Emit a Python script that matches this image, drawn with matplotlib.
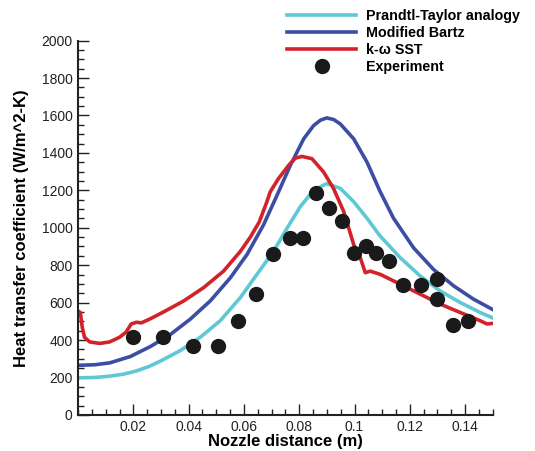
import numpy as np
import matplotlib
matplotlib.use("Agg")
import matplotlib.pyplot as plt
from matplotlib.ticker import MultipleLocator, FixedLocator

plt.rcParams['font.family'] = ['Liberation Sans', 'DejaVu Sans']

# Prandtl-Taylor analogy
pt_x = [0.0, 0.0060, 0.0114, 0.0165, 0.0211, 0.0255, 0.0297, 0.0370, 0.0442,
        0.0514, 0.0587, 0.0647, 0.0707, 0.0756, 0.0804, 0.0852, 0.0900,
        0.0949, 0.0997, 0.1045, 0.1093, 0.1166, 0.1238, 0.1310, 0.1383,
        0.1455, 0.150]
pt_y = [198, 200, 207, 218, 235, 258, 287, 344, 415,
        503, 627, 751, 874, 998, 1113, 1201, 1236,
        1210, 1139, 1051, 955, 839, 742, 662, 600,
        547, 518]

# Modified Bartz
bz_x = [0.0, 0.0060, 0.0114, 0.0189, 0.0261, 0.0334, 0.0406, 0.0478, 0.0551,
        0.0611, 0.0671, 0.0720, 0.0768, 0.0816, 0.0852, 0.0877, 0.0900,
        0.0925, 0.0949, 0.0997, 0.1045, 0.1093, 0.1141, 0.1214, 0.1286,
        0.1359, 0.1431, 0.150]
bz_y = [265, 268, 278, 312, 365, 430, 512, 609, 733,
        857, 1016, 1175, 1334, 1475, 1546, 1575, 1587,
        1578, 1554, 1475, 1351, 1192, 1051, 892, 777,
        689, 618, 563]

# k-omega SST
sst_x = [0.0, 0.0008, 0.0015, 0.0023, 0.0042, 0.0078, 0.0114, 0.0150, 0.0174,
         0.0192, 0.0211, 0.0229, 0.0259, 0.0309, 0.0382, 0.0454, 0.0526,
         0.0587, 0.0623, 0.0655, 0.0683, 0.0695, 0.0725, 0.0762, 0.0786,
         0.0810, 0.0846, 0.0888, 0.0924, 0.0961, 0.0997, 0.1021, 0.1039,
         0.1057, 0.1093, 0.1166, 0.1238, 0.1310, 0.1383, 0.1455, 0.1479,
         0.150]
sst_y = [555, 547, 468, 415, 390, 382, 390, 415, 443,
         486, 495, 492, 512, 550, 609, 680, 768,
         874, 950, 1030, 1139, 1192, 1263, 1334, 1372,
         1381, 1369, 1298, 1210, 1086, 910, 839, 760,
         768, 751, 698, 645, 592, 547, 503, 486,
         489]

# Experiment
exp_x = [0.0200, 0.0306, 0.0416, 0.0505, 0.0578, 0.0644, 0.0704, 0.0768, 0.0812,
         0.0860, 0.0906, 0.0953, 0.0998, 0.1040, 0.1079, 0.1126, 0.1177, 0.1242,
         0.1298, 0.1298, 0.1358, 0.1410]
exp_y = [416, 416, 370, 370, 503, 646, 862, 943, 943,
         1186, 1108, 1037, 867, 904, 866, 820, 694, 694,
         724, 620, 480, 503]

fig = plt.figure(figsize=(5.35, 4.51), dpi=100)
ax = fig.add_axes([0.146, 0.080, 0.775, 0.830])

ax.plot(pt_x, pt_y, color='#5ec9d4', lw=2.6, label='Prandtl-Taylor analogy')
ax.plot(bz_x, bz_y, color='#3b4ea3', lw=2.6, label='Modified Bartz')
ax.plot(sst_x, sst_y, color='#d2232a', lw=2.6, label='k-\u03c9 SST')
ax.plot(exp_x, exp_y, 'o', color='#1a1a1a', ms=10, label='Experiment')

ax.set_xlim(0, 0.15)
ax.set_ylim(0, 2000)
ax.xaxis.set_major_locator(FixedLocator([0.02, 0.04, 0.06, 0.08, 0.1, 0.12, 0.14]))
ax.set_xticklabels(['0.02', '0.04', '0.06', '0.08', '0.1', '0.12', '0.14'])
ax.xaxis.set_minor_locator(MultipleLocator(0.005))
ax.yaxis.set_major_locator(MultipleLocator(200))
ax.yaxis.set_minor_locator(MultipleLocator(50))
ax.tick_params(which='both', direction='in', labelsize=10, colors='#222222', width=1)
ax.tick_params(which='major', length=8, pad=4)
ax.tick_params(which='minor', length=4)
for s in ['top', 'right']:
    ax.spines[s].set_visible(False)
for s in ['left', 'bottom']:
    ax.spines[s].set_linewidth(1.5)
    ax.spines[s].set_color('#222222')

ax.set_xlabel('Nozzle distance (m)', fontsize=12, fontweight='bold', labelpad=0)
ax.set_ylabel('Heat transfer coefficient (W/m^2-K)', fontsize=12, fontweight='bold', labelpad=9)

ax.legend(loc='upper left', bbox_to_anchor=(0.52, 1.0), bbox_transform=fig.transFigure,
          frameon=False, prop={'weight': 'bold', 'size': 10.3}, handlelength=4.8,
          handletextpad=0.7, labelspacing=0.2, borderaxespad=0.25)

fig.savefig('out.png', dpi=100)
